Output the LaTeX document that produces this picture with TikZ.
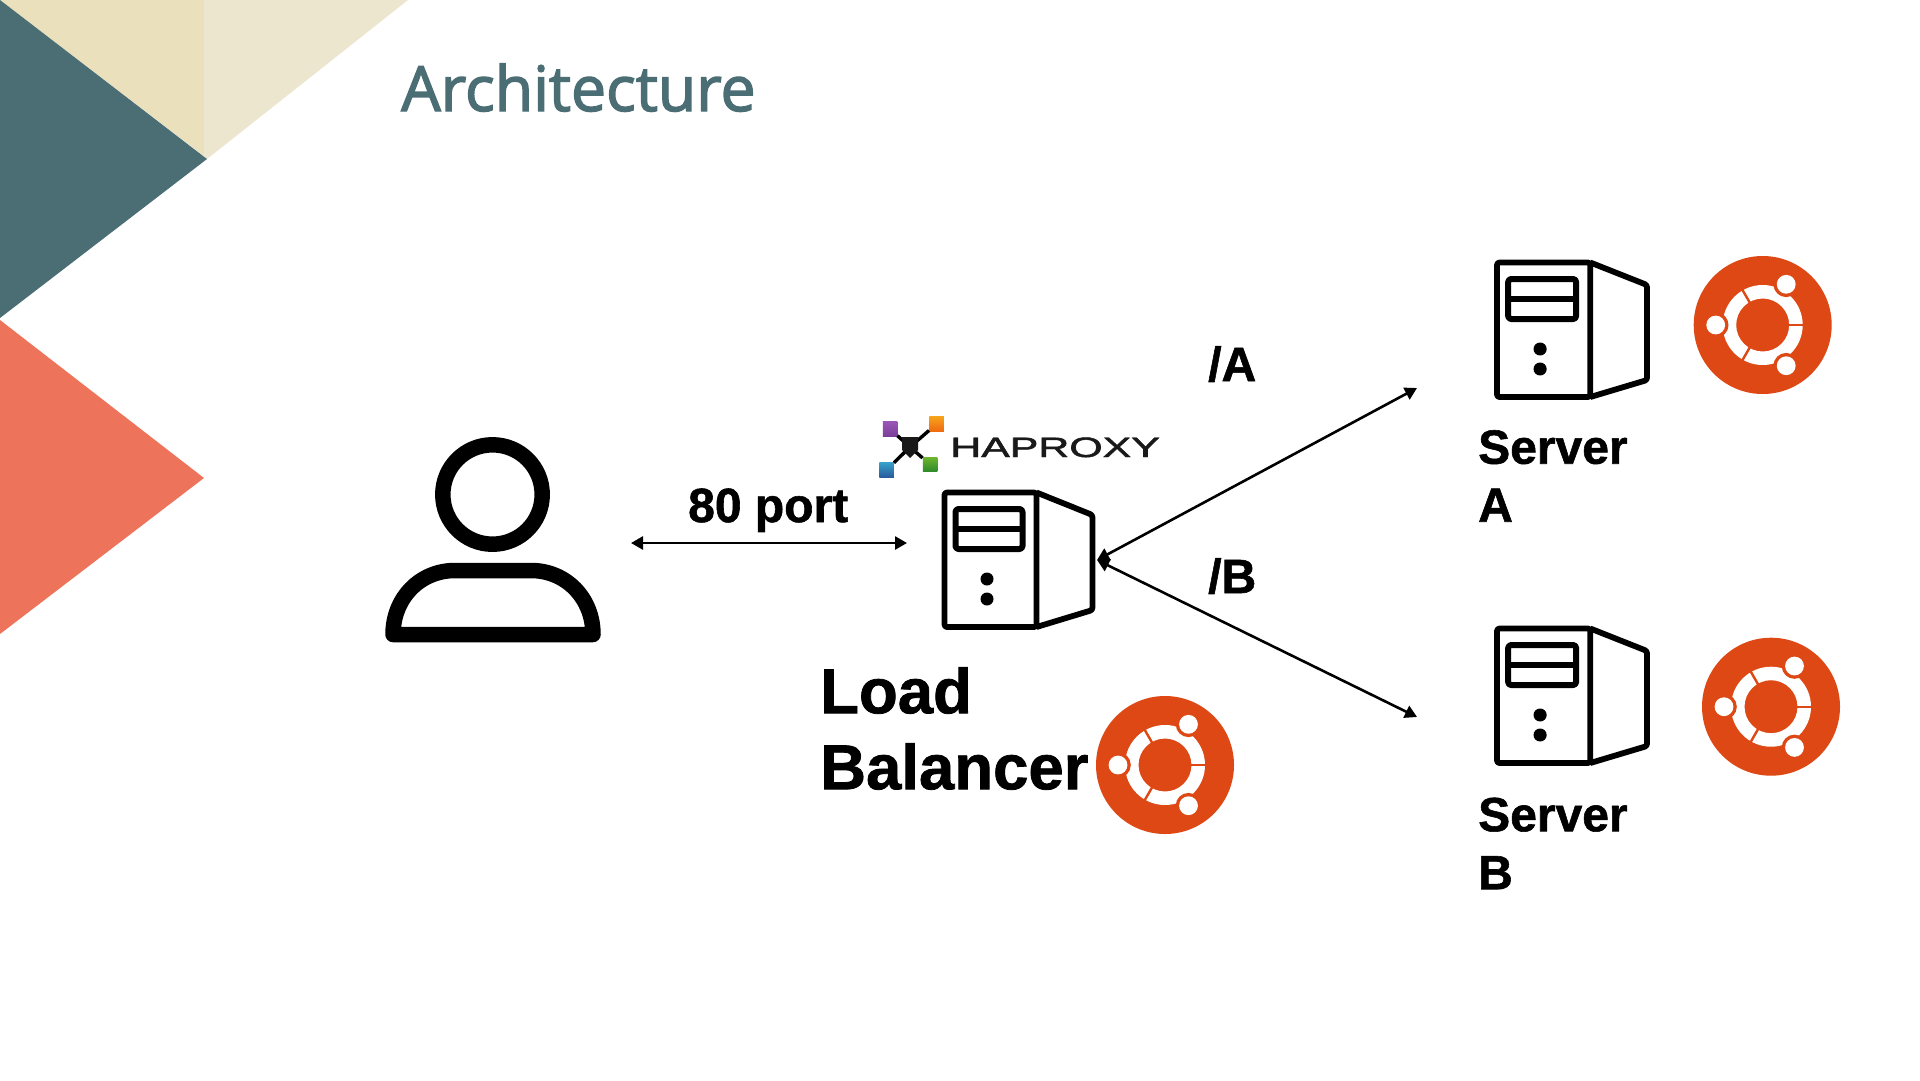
\documentclass[tikz,border=0pt]{standalone}
\usepackage{fontspec}
\usetikzlibrary{arrows.meta}
\setmainfont{Liberation Sans}[BoldFeatures={FakeBold=1.2}]
\newfontfamily\titlefont{Open Sans}[FakeBold=2.2]
\newfontfamily\hapfont{Liberation Sans}[FakeBold=1.6]
\definecolor{teal1}{HTML}{4B6E75}
\definecolor{coral1}{HTML}{ED735B}
\definecolor{beige1}{HTML}{EAE0BC}
\definecolor{beige2}{HTML}{EDE6CE}
\definecolor{ubu}{HTML}{DD4814}
\definecolor{hpurple}{HTML}{9A55B5}
\definecolor{hpurple2}{HTML}{7A3F9A}
\definecolor{horange}{HTML}{F7A21B}
\definecolor{horange2}{HTML}{EE6A10}
\definecolor{hblue}{HTML}{35A0C8}
\definecolor{hblue2}{HTML}{2A5A9C}
\definecolor{hgreen}{HTML}{6DB52E}
\definecolor{hgreen2}{HTML}{2E8A2A}
\tikzset{
  conn/.style={line width=2.6pt,{Triangle[length=12pt,width=13pt]}-{Triangle[length=12pt,width=13pt]}},
  lbl/.style={anchor=base west,inner sep=0pt,font=\bfseries\fontsize{48}{58}\selectfont},
  serverpc/.pic={
    \begin{scope}[line join=round]
    \draw[line width=5.8pt,rounded corners=2.5pt] (0,0) rectangle (92,134.5);
    \draw[line width=5.8pt,rounded corners=2.5pt] (92,0) -- (148,22.5) -- (148,117.5) -- (92,134.5);
    \draw[line width=6pt,rounded corners=3pt] (11,16.5) rectangle (78,56.5);
    \draw[line width=6pt] (11,36) -- (78,36);
    \fill (42.5,86.5) circle (6.5) (42.5,106.5) circle (6.5);
    \end{scope}
  },
  ubuntu/.pic={
    \fill[ubu] (0,0) circle (69);
    \fill[white,even odd rule] (0,0) circle (40) circle (26.5);
    \foreach \a in {0,120,240} \draw[ubu,line width=2.4pt] (\a:24) -- (\a:42);
    \foreach \a in {60,180,300} {
      \fill[ubu] (\a:47) circle (12.8);
      \fill[white] (\a:47) circle (9.4);
    }
  },
  hapsq/.style={inner sep=0pt,minimum size=14.5pt}
}
\begin{document}
\begin{tikzpicture}[x=1pt,y=-1pt]
\useasboundingbox (0,0) rectangle (1920,1080);
\fill[white] (0,0) rectangle (1920,1080);
% decoration
\fill[beige1] (0,0) -- (204,0) -- (204,156) -- cycle;
\fill[beige2] (204,0) -- (408,0) -- (207,159) -- (204,156) -- cycle;
\fill[teal1] (0,0) -- (207,159) -- (0,318) -- cycle;
\fill[coral1] (0,320) -- (204,478) -- (0,634) -- cycle;
% title
\node[anchor=base west,inner sep=0pt,text=teal1,font=\titlefont\fontsize{62.5}{70}\selectfont] (title) at (401,111) {Architecture};
% user
\draw[line width=15.5pt] (492.5,494.5) circle (49.7);
\draw[line width=15.5pt,line join=round] (393,634.5) .. controls (393,598) and (420,570.5) .. (455,570.5) -- (531,570.5) .. controls (566,570.5) and (593,598) .. (593,634.5) -- cycle;
% servers
\pic at (944.5,492.5) {serverpc};
\pic[xscale=1.014] at (1497,262.5) {serverpc};
\pic[xscale=1.014] at (1497,628.5) {serverpc};
% ubuntu
\pic at (1165,765) {ubuntu};
\pic at (1762.7,325) {ubuntu};
\pic at (1771,706.7) {ubuntu};
% HAProxy logo
\coordinate (hub) at (910,447);
\node[hapsq,shade,top color=hpurple,bottom color=hpurple2] (hp) at (890,429) {};
\node[hapsq,shade,top color=horange,bottom color=horange2] (ho) at (936.5,424) {};
\node[hapsq,shade,top color=hblue,bottom color=hblue2] (hb) at (886.5,470) {};
\node[hapsq,shade,top color=hgreen,bottom color=hgreen2] (hg) at (930,464.5) {};
\foreach \n in {hp,ho,hb,hg} \draw[line width=3.4pt] (hub) -- (\n);
\fill[black!90] (902,437) -- (918,437) -- (918,450) -- (910,458) -- (902,450) -- cycle;
\node[anchor=base west,inner sep=0pt,text=black!90,xscale=1.53,font=\hapfont\fontsize{28}{30}\selectfont] (hap) at (950,457) {HAPROXY};
% labels
\node[lbl] (lport) at (688,522) {80 port};
\node[lbl] (la) at (1208,381) {/A};
\node[lbl] (lb) at (1208,593) {/B};
\node[lbl,align=left,anchor=north west] (sa) at (1478,430) {Server\\A};
\node[lbl,align=left,anchor=north west] (sb) at (1478,797.5) {Server\\B};
\node[lbl,align=left,anchor=north west,font=\bfseries\fontsize{63.5}{76}\selectfont] (lbt) at (820,667) {Load\\Balancer};
% connectors
\coordinate (c1) at (631,543);
\coordinate (c2) at (907,543);
\coordinate (c3) at (1097,560);
\coordinate (c4) at (1417,388);
\coordinate (c5) at (1417,717);
\draw[conn] (c1) -- (c2);
\draw[conn] (c3) -- (c4);
\draw[conn] (c3) -- (c5);
\end{tikzpicture}
\end{document}
